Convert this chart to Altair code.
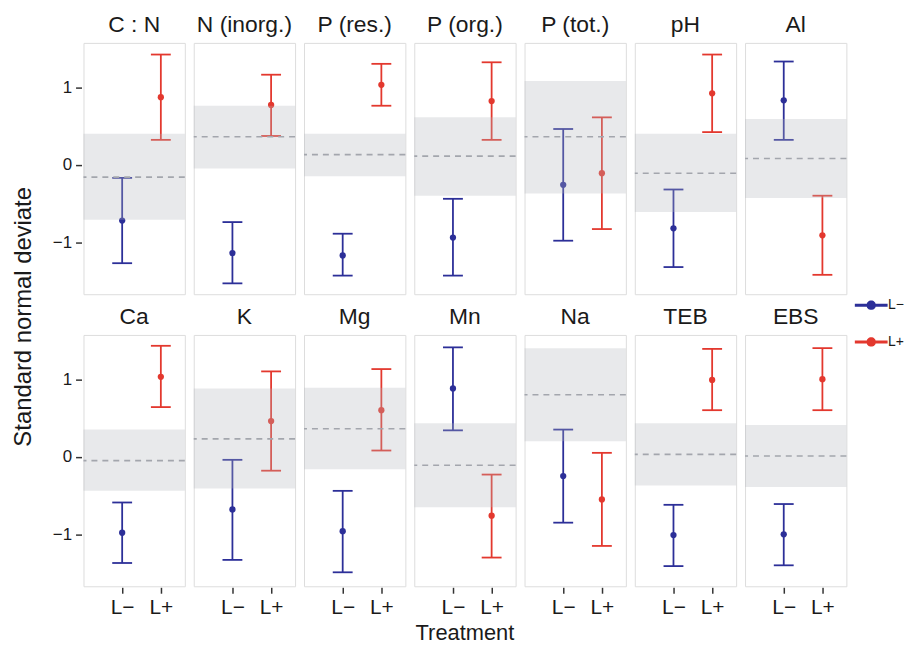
import altair as alt
import pandas as pd

variables = ["C : N", "N (inorg.)", "P (res.)", "P (org.)", "P (tot.)", "pH", "Al",
             "Ca", "K", "Mg", "Mn", "Na", "TEB", "EBS"]

lminus_mean = [-0.72, -1.14, -1.17, -0.94, -0.26, -0.82, 0.83,
               -0.98, -0.68, -0.96, 0.88, -0.25, -1.01, -1.00]
lminus_lo = [-1.27, -1.53, -1.43, -1.43, -0.98, -1.32, 0.32,
             -1.37, -1.33, -1.49, 0.34, -0.85, -1.41, -1.40]
lminus_hi = [-0.17, -0.74, -0.89, -0.44, 0.46, -0.32, 1.33,
             -0.59, -0.04, -0.44, 1.41, 0.35, -0.62, -0.61]

lplus_mean = [0.87, 0.77, 1.03, 0.82, -0.11, 0.92, -0.91,
              1.03, 0.46, 0.60, -0.76, -0.55, 0.99, 1.00]
lplus_lo = [0.32, 0.37, 0.76, 0.32, -0.83, 0.42, -1.42,
            0.64, -0.18, 0.08, -1.30, -1.15, 0.60, 0.60]
lplus_hi = [1.42, 1.16, 1.30, 1.32, 0.61, 1.42, -0.40,
            1.43, 1.10, 1.13, -0.23, 0.05, 1.39, 1.40]

band_lo = [-0.71, -0.05, -0.15, -0.40, -0.37, -0.61, -0.43,
           -0.44, -0.41, -0.16, -0.65, 0.20, -0.37, -0.39]
band_hi = [0.40, 0.76, 0.40, 0.61, 1.08, 0.40, 0.59,
           0.35, 0.88, 0.89, 0.43, 1.40, 0.43, 0.41]
band_mid = [-0.16, 0.36, 0.13, 0.11, 0.36, -0.11, 0.08,
            -0.05, 0.23, 0.36, -0.11, 0.80, 0.03, 0.01]

treatments = ["L\u2212", "L+"]
treat_pos = [1, 2]
colors = ["#2c2f98", "#e3382e"]

rows = []
for i, v in enumerate(variables):
    for t, p, m, lo, hi in [
        (treatments[0], treat_pos[0], lminus_mean[i], lminus_lo[i], lminus_hi[i]),
        (treatments[1], treat_pos[1], lplus_mean[i], lplus_lo[i], lplus_hi[i]),
    ]:
        rows.append({"var": v, "kind": "pt", "treat": t, "xpos": p,
                     "mean": m, "lo": lo, "hi": hi})
    rows.append({"var": v, "kind": "band", "blo": band_lo[i],
                 "bhi": band_hi[i], "bmid": band_mid[i]})
df = pd.DataFrame(rows)

W, H = 102, 253
TXT = "#1a1a1a"
xscale = alt.Scale(domain=[0, 2.62], nice=False, zero=False)
yscale = alt.Scale(domain=[-1.67, 1.57], nice=False, zero=False)
cscale = alt.Scale(domain=treatments, range=colors)

xenc = alt.X("xpos:Q", scale=xscale,
             axis=alt.Axis(title=None, values=treat_pos, grid=False, domain=False,
                           labelExpr="datum.value == 1 ? 'L\u2212' : 'L+'",
                           tickSize=6, tickWidth=1.5, tickColor="#333333",
                           labelFontSize=21, labelColor=TXT, labelPadding=3))
yaxis = alt.Axis(title=None, values=[-1, 0, 1], grid=False, domain=False,
                 labelExpr="datum.value < 0 ? '\u2212' + abs(datum.value) : datum.value",
                 tickSize=6, tickWidth=1.5, tickColor="#333333",
                 labelFontSize=17, labelColor=TXT, labelPadding=4)

legend = alt.Legend(title=None, orient="none", legendX=786, legendY=257,
                    symbolType="M-3.3,-0.3H3.3V0.3H-3.3Z M-0.95,0 A0.95,0.95 0 1,1 0.95,0 A0.95,0.95 0 1,1 -0.95,0Z",
                    symbolStrokeWidth=0, symbolOpacity=1,
                    labelFontSize=14, labelColor=TXT, rowPadding=23, labelOffset=10)
color = alt.Color("treat:N", scale=cscale, legend=legend)

base = alt.Chart()
pts = base.transform_filter(alt.datum.kind == "pt")

bars = pts.mark_rule(strokeWidth=1.8).encode(
    x=xenc,
    y=alt.Y("lo:Q", scale=yscale, axis=yaxis),
    y2="hi:Q",
    color=color,
)
cap_lo = pts.mark_tick(orient="horizontal", size=20, thickness=1.8, opacity=1).encode(
    x="xpos:Q", y="lo:Q", color=color,
)
cap_hi = pts.mark_tick(orient="horizontal", size=20, thickness=1.8, opacity=1).encode(
    x="xpos:Q", y="hi:Q", color=color,
)
dots = pts.mark_circle(size=40, opacity=1).encode(
    x="xpos:Q", y="mean:Q", color=color,
)
bd = base.transform_filter(alt.datum.kind == "band")
band = bd.mark_rect(color="#b4b6bc", opacity=0.3).encode(
    x=alt.value(0), x2=alt.value(W),
    y="blo:Q", y2="bhi:Q",
)
mid = bd.mark_rule(color="#a3a6ad", strokeWidth=1.6, strokeDash=[6, 5]).encode(
    y="bmid:Q",
)

chart = alt.layer(bars, cap_lo, cap_hi, dots, band, mid, data=df).properties(
    width=W, height=H
).facet(
    facet=alt.Facet("var:N", sort=variables,
                    header=alt.Header(title="Treatment", titleOrient="bottom",
                                      titleFontSize=22, titleFontWeight="normal",
                                      titleColor=TXT, titlePadding=6,
                                      labelOrient="top",
                                      labelFontSize=23, labelColor=TXT,
                                      labelPadding=6)),
    columns=7,
    spacing={"row": 10, "column": 5},
).resolve_scale(
    x="shared", y="shared"
).configure_view(
    stroke="#a9adb3", strokeWidth=1.5
).configure(
    font="Liberation Sans"
).properties(
    title=alt.TitleParams("Standard normal deviate", orient="left", anchor="middle",
                          fontSize=24, fontWeight="normal", color=TXT, offset=16, dx=12),
    padding={"left": 4, "top": 3, "right": 0, "bottom": 0}
)

chart.save("out.html", embed_options={"renderer": "svg", "actions": False})
